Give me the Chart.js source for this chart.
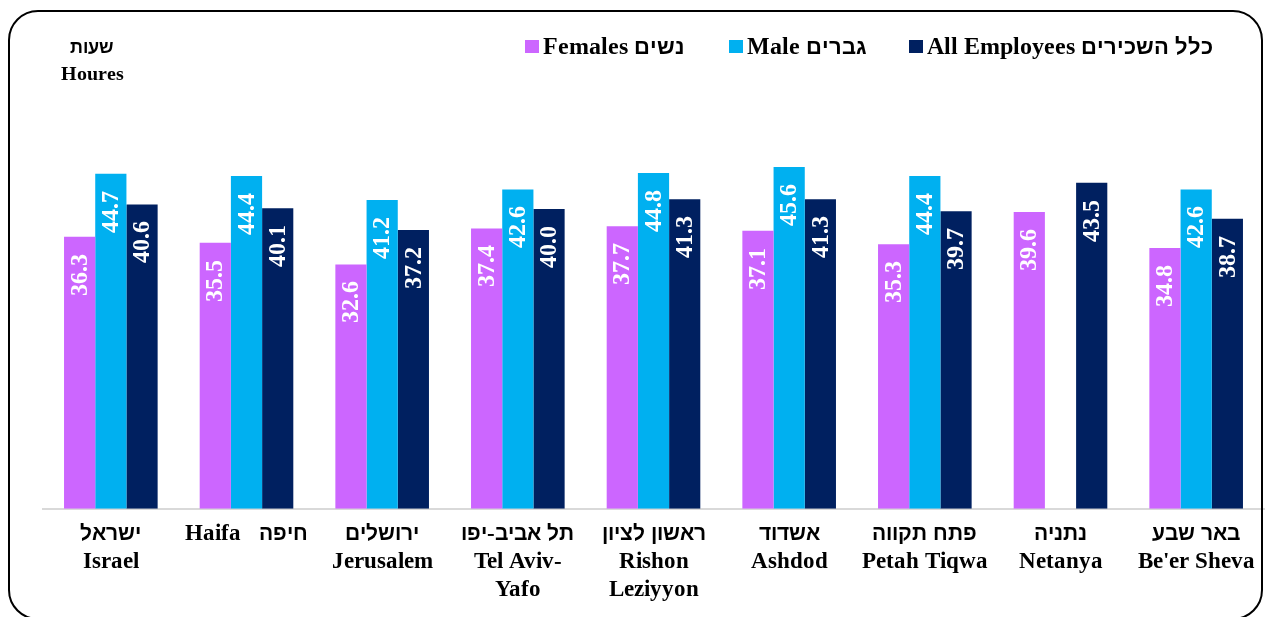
<!DOCTYPE html>
<html>
<head>
<meta charset="utf-8">
<script src="https://cdn.jsdelivr.net/npm/chart.js@4.4.0/dist/chart.umd.min.js"></script>
<style>
  @font-face {
    font-family: 'HebMix'; font-weight: 700;
    src: local('Liberation Sans Bold'), local('LiberationSans-Bold');
    unicode-range: U+0590-05FF, U+FB1D-FB4F;
    size-adjust: 90%;
  }
  @font-face {
    font-family: 'HebMix'; font-weight: 700;
    src: local('Liberation Serif Bold'), local('LiberationSerif-Bold');
    unicode-range: U+0000-058F, U+0600-FB1C, U+FB50-FFFF;
  }
  html, body { margin: 0; padding: 0; background: #fff; overflow: hidden; }
  #wrap { position: relative; width: 1267px; height: 617px; }
  #frame {
    position: absolute; left: 8px; top: 10px; width: 1251px; height: 606px;
    border: 2px solid #000; border-radius: 30px; pointer-events: none;
  }
  .serif { font-family: HebMix, 'Liberation Serif', 'Times New Roman', serif; font-weight: bold; color: #000; }
  #ytitle { position: absolute; left: 50px; top: 33px; width: 84px; text-align: center; font-size: 20px; line-height: 27px; }
  .lg { position: absolute; top: 33px; font-size: 24px; line-height: 26px; white-space: nowrap; }
  .lg span.box { display: inline-block; width: 14px; height: 13px; margin-right: 4px; vertical-align: 1px; }
  #chartBox { position: absolute; left: 0; top: 0; width: 1267px; height: 617px; }
</style>
</head>
<body>
<div id="wrap">
  <div id="chartBox"><canvas id="myChart" width="1267" height="617"></canvas></div>
  <div id="frame"></div>
  <div id="ytitle" class="serif">שעות<br>Houres</div>
  <div class="lg serif" style="left:525px"><span class="box" style="background:#cc66ff"></span>Females נשים</div>
  <div class="lg serif" style="left:729px"><span class="box" style="background:#00b0f0"></span>Male גברים</div>
  <div class="lg serif" style="left:909px"><span class="box" style="background:#002060"></span>All Employees כלל השכירים</div>
</div>
<script>
// נתונים
var cities = [
  ['ישראל', 'Israel'],
  ['Haifa   חיפה'],
  ['ירושלים', 'Jerusalem'],
  ['תל אביב-יפו', 'Tel Aviv-', 'Yafo'],
  ['ראשון לציון', 'Rishon', 'Leziyyon'],
  ['אשדוד', 'Ashdod'],
  ['פתח תקווה', 'Petah Tiqwa'],
  ['נתניה', 'Netanya'],
  ['באר שבע', "Be'er Sheva"]
];
var females = [36.3, 35.5, 32.6, 37.4, 37.7, 37.1, 35.3, 39.6, 34.8];
var males   = [44.7, 44.4, 41.2, 42.6, 44.8, 45.6, 44.4, null, 42.6];
var allEmp  = [40.6, 40.1, 37.2, 40.0, 41.3, 41.3, 39.7, 43.5, 38.7];

var serif = "HebMix, 'Liberation Serif', 'Times New Roman', serif";

// תוויות ערך בתוך העמודות, מסובבות
const barLabels = {
  id: 'barLabels',
  afterDatasetsDraw(chart) {
    const c = chart.ctx;
    c.save();
    c.fillStyle = '#fff';
    c.font = 'bold 24px ' + serif;
    c.textAlign = 'right';
    c.textBaseline = 'middle';
    chart.data.datasets.forEach(function(ds, i) {
      chart.getDatasetMeta(i).data.forEach(function(bar, j) {
        var v = ds.data[j];
        if (v === null || v === undefined) return;
        c.save();
        c.translate(bar.x, bar.y + 17);
        c.rotate(-Math.PI / 2);
        c.fillText(v.toFixed(1), 0, 1);
        c.restore();
      });
    });
    c.restore();
  }
};

function make_chart() {
  var ctx = document.getElementById('myChart').getContext('2d');
  new Chart(ctx, {
    type: 'bar',
    data: {
      labels: cities,
      datasets: [
        { label: 'Females נשים', data: females, backgroundColor: '#cc66ff' },
        { label: 'Male גברים', data: males, backgroundColor: '#00b0f0' },
        { label: 'All Employees כלל השכירים', data: allEmp, backgroundColor: '#002060' }
      ]
    },
    options: {
      responsive: false,
      animation: false,
      layout: { padding: { left: 43, right: 3, top: 59, bottom: 2 } },
      datasets: { bar: { categoryPercentage: 0.69, barPercentage: 1.0 } },
      plugins: {
        legend: { display: false },
        tooltip: { enabled: false }
      },
      scales: {
        x: {
          grid: { display: false, drawTicks: false },
          border: { display: true, color: '#d9d9d9', width: 2 },
          ticks: {
            color: '#000',
            font: { family: serif, size: 23, weight: 'bold', lineHeight: 1.22 },
            padding: 11,
            maxRotation: 0,
            autoSkip: false
          }
        },
        y: { display: false, min: 0, max: 60 }
      }
    },
    plugins: [barLabels]
  });
}

var done = false;
function go() { if (!done) { done = true; make_chart(); } }
Promise.all([
  document.fonts.load('bold 23px HebMix', 'שעות'),
  document.fonts.load('bold 23px HebMix', 'Israel')
]).then(go, go);
setTimeout(go, 1500);
</script>
</body>
</html>
